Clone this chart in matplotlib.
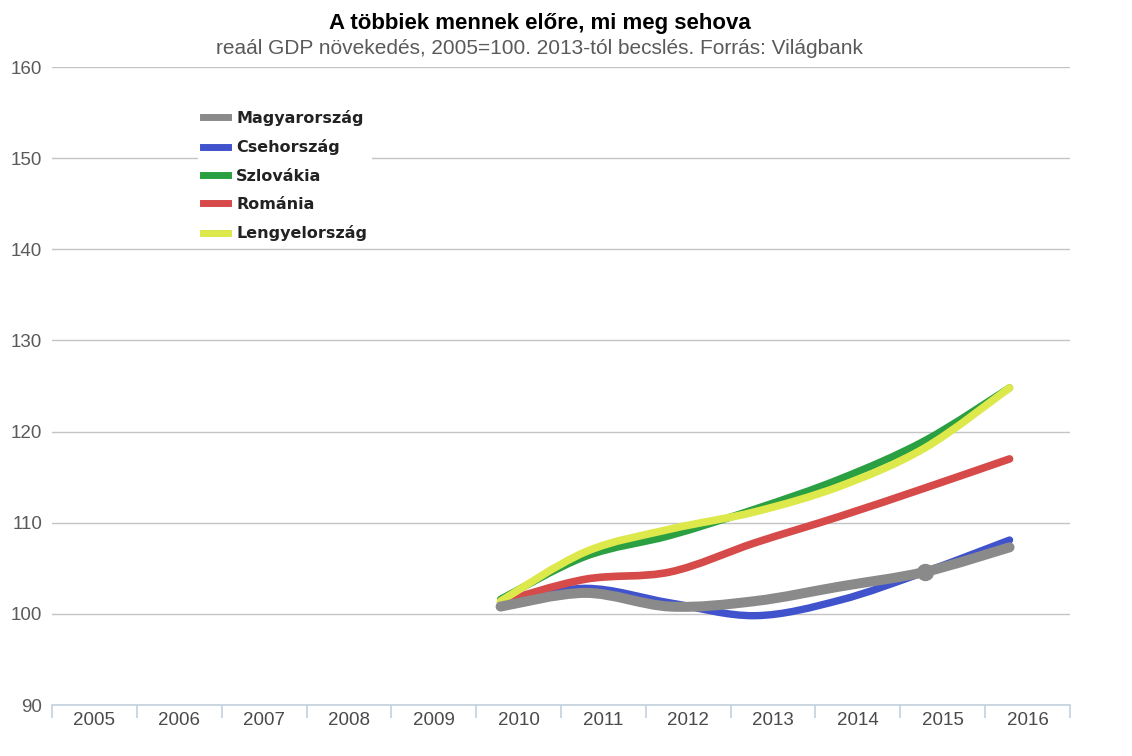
import matplotlib
matplotlib.use("Agg")
import matplotlib.pyplot as plt
import matplotlib.transforms as mtransforms
from matplotlib.path import Path
from matplotlib.patches import PathPatch
from matplotlib.lines import Line2D

# ---- data ----
categories = [str(y) for y in range(2005, 2017)]
data_years = [2010, 2011, 2012, 2013, 2014, 2015, 2016]
magyarorszag = [100.8, 102.3, 100.8, 101.4, 103.0, 104.6, 107.3]
csehorszag = [101.2, 102.8, 101.2, 99.8, 101.5, 104.6, 108.1]
szlovakia = [101.6, 106.3, 108.6, 111.5, 114.8, 119.0, 124.8]
romania = [101.3, 103.8, 104.6, 107.8, 110.7, 113.8, 117.0]
lengyelorszag = [101.4, 106.8, 109.3, 111.2, 114.0, 118.2, 124.8]
series_names = ["Magyarország", "Csehország", "Szlovákia", "Románia", "Lengyelország"]
highlight_year = 2015
y_ticks = [90, 100, 110, 120, 130, 140, 150, 160]

colors = {
    "Magyarország": "#8a8a8a",
    "Csehország": "#4053cc",
    "Szlovákia": "#2ba043",
    "Románia": "#d64a4a",
    "Lengyelország": "#dde84a",
}
values = {
    "Magyarország": magyarorszag,
    "Csehország": csehorszag,
    "Szlovákia": szlovakia,
    "Románia": romania,
    "Lengyelország": lengyelorszag,
}

W, H = 1132, 756
fig = plt.figure(figsize=(W / 100, H / 100), dpi=100)
ax = fig.add_axes([52 / W, (H - 705) / H, (1070 - 52) / W, (705 - 67) / H])

xs_cat = list(range(len(categories)))
ax.set_xlim(-0.5, len(categories) - 0.5)
ax.set_ylim(y_ticks[0], y_ticks[-1])

# series are drawn slightly left of the category centres, as in the source
shift = mtransforms.offset_copy(ax.transData, fig=fig, x=-18, y=0, units="dots")


def smooth_path(xs, ys):
    pts = list(zip(xs, ys))
    n = len(pts)
    verts = [pts[0]]
    codes = [Path.MOVETO]
    for i in range(n - 1):
        p0 = pts[i - 1] if i > 0 else pts[i]
        p1 = pts[i]
        p2 = pts[i + 1]
        p3 = pts[i + 2] if i + 2 < n else pts[i + 1]
        c1 = (p1[0] + (p2[0] - p0[0]) / 6, p1[1] + (p2[1] - p0[1]) / 6)
        c2 = (p2[0] - (p3[0] - p1[0]) / 6, p2[1] - (p3[1] - p1[1]) / 6)
        verts += [c1, c2, p2]
        codes += [Path.CURVE4, Path.CURVE4, Path.CURVE4]
    return Path(verts, codes)


data_x = [categories.index(str(y)) for y in data_years]
draw_order = ["Csehország", "Szlovákia", "Románia", "Lengyelország", "Magyarország"]
widths = {"Magyarország": 7.2, "Csehország": 5.3, "Szlovákia": 5.3,
          "Románia": 5.5, "Lengyelország": 5.5}
for z, name in enumerate(draw_order):
    patch = PathPatch(smooth_path(data_x, values[name]), facecolor="none",
                      edgecolor=colors[name], lw=widths[name],
                      capstyle="round", joinstyle="round",
                      transform=shift, zorder=3 + z)
    ax.add_patch(patch)

hi = data_years.index(highlight_year)
ax.plot([data_x[hi]], [magyarorszag[hi]], "o", color=colors["Magyarország"],
        ms=11.5, transform=shift, zorder=10)

# ---- axes styling ----
for s in ["top", "right", "left"]:
    ax.spines[s].set_visible(False)
ax.spines["bottom"].set_color("#c3d1e0")
ax.spines["bottom"].set_linewidth(1.2)

ax.set_yticks(y_ticks)
ax.set_yticklabels([str(v) for v in y_ticks])
ax.tick_params(axis="y", length=0, pad=7, labelsize=13.5, labelcolor="#5a5a5a")
ax.yaxis.grid(True, color="#c4c4c4", lw=1.0)
ax.set_axisbelow(True)

ax.set_xticks(xs_cat)
ax.set_xticklabels(categories)
ax.set_xticks([i - 0.5 for i in range(len(categories) + 1)], minor=True)
ax.tick_params(axis="x", which="major", length=0, pad=5, labelsize=13.5,
               labelcolor="#4a4a4a")
ax.tick_params(axis="x", which="minor", length=9, width=1.2, color="#c3d1e0",
               direction="out")
for lab in ax.get_xticklabels() + ax.get_yticklabels():
    lab.set_fontfamily("Liberation Sans")

# ---- legend ----
handles = [Line2D([], [], color=colors[n], lw=5) for n in series_names]
leg = ax.legend(handles, series_names, loc="upper left",
                bbox_to_anchor=(198 / W, 1 - 105 / H), bbox_transform=fig.transFigure,
                frameon=True, fancybox=False, framealpha=1, edgecolor="none",
                facecolor="white", borderaxespad=0, borderpad=0.3,
                handlelength=1.6, handletextpad=0.5, labelspacing=0.84,
                prop=dict(family="DejaVu Sans", weight="bold", size=11.5))
for t in leg.get_texts():
    t.set_color("#222222")
leg.set_zorder(20)

# ---- titles ----
fig.text(540 / W, 1 - 23 / H, "A többiek mennek előre, mi meg sehova",
         ha="center", va="center", fontsize=16, fontweight="bold",
         family="Liberation Sans", color="#000000")
fig.text(540 / W, 1 - 49 / H,
         "reaál GDP növekedés, 2005=100. 2013-tól becslés. Forrás: Világbank",
         ha="center", va="center", fontsize=15, family="Liberation Sans",
         color="#5a5a5a")

fig.savefig("out.png", dpi=100, facecolor="white")
